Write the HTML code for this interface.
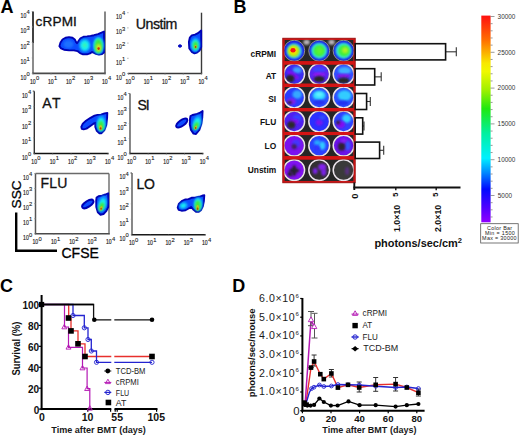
<!DOCTYPE html><html><head><meta charset="utf-8"><style>html,body{margin:0;padding:0;background:#fff;}svg{display:block;font-family:"Liberation Sans",sans-serif;}</style></head><body>
<svg width="520" height="436" viewBox="0 0 520 436">
<defs>
<filter id="bl" x="-20%" y="-20%" width="140%" height="140%"><feGaussianBlur stdDeviation="0.55"/></filter>
<filter id="bl2" x="-30%" y="-30%" width="160%" height="160%"><feGaussianBlur stdDeviation="1.0"/></filter>
<filter id="b6" x="-50%" y="-50%" width="200%" height="200%"><feGaussianBlur stdDeviation="0.6"/></filter>
<filter id="b8" x="-50%" y="-50%" width="200%" height="200%"><feGaussianBlur stdDeviation="0.8"/></filter>
<filter id="b9" x="-50%" y="-50%" width="200%" height="200%"><feGaussianBlur stdDeviation="0.9"/></filter>
<filter id="b10" x="-50%" y="-50%" width="200%" height="200%"><feGaussianBlur stdDeviation="1.0"/></filter>
<filter id="b11" x="-50%" y="-50%" width="200%" height="200%"><feGaussianBlur stdDeviation="1.1"/></filter>
<filter id="b12" x="-50%" y="-50%" width="200%" height="200%"><feGaussianBlur stdDeviation="1.2"/></filter>
<filter id="b13" x="-50%" y="-50%" width="200%" height="200%"><feGaussianBlur stdDeviation="1.3"/></filter>
<filter id="bl3" x="-30%" y="-30%" width="160%" height="160%"><feGaussianBlur stdDeviation="1.6"/></filter>
<linearGradient id="cbar" x1="0" y1="0" x2="0" y2="1">
<stop offset="0" stop-color="#ff1010"/>
<stop offset="0.12" stop-color="#ff7000"/>
<stop offset="0.23" stop-color="#f8e800"/>
<stop offset="0.27" stop-color="#f0f800"/>
<stop offset="0.36" stop-color="#a0f000"/>
<stop offset="0.45" stop-color="#20e810"/>
<stop offset="0.57" stop-color="#00f0a0"/>
<stop offset="0.69" stop-color="#00f0ff"/>
<stop offset="0.76" stop-color="#0088ff"/>
<stop offset="0.84" stop-color="#0008ff"/>
<stop offset="0.93" stop-color="#5000ff"/>
<stop offset="1" stop-color="#9000ff"/>
</linearGradient>
</defs>
<rect width="520" height="436" fill="#fff"/>
<text x="0.40" y="13.30" font-size="18" text-anchor="start" font-weight="bold" fill="#000" >A</text>
<text x="233.40" y="12.90" font-size="18" text-anchor="start" font-weight="bold" fill="#000" >B</text>
<text x="0.00" y="292.20" font-size="18" text-anchor="start" font-weight="bold" fill="#000" >C</text>
<text x="232.30" y="292.10" font-size="18" text-anchor="start" font-weight="bold" fill="#000" >D</text>
<line x1="33.00" y1="43.00" x2="33.00" y2="73.40" stroke="#666" stroke-width="1.5" />
<line x1="33.00" y1="11.50" x2="33.00" y2="43.00" stroke="#111" stroke-width="1.6" />
<line x1="105.00" y1="11.50" x2="105.00" y2="73.40" stroke="#555" stroke-width="1.4" />
<line x1="32.30" y1="73.40" x2="105.70" y2="73.40" stroke="#4a4a4a" stroke-width="1.6" />
<text x="20.60" y="79.70" font-size="7.8" fill="#1a1a1a" stroke="#1a1a1a" stroke-width="0.18" textLength="5.7" lengthAdjust="spacingAndGlyphs">10</text>
<text x="26.60" y="76.10" font-size="5.8" fill="#1a1a1a" stroke="#1a1a1a" stroke-width="0.12">0</text>
<line x1="31.80" y1="73.40" x2="33.00" y2="73.40" stroke="#888" stroke-width="0.8" />
<text x="20.60" y="64.23" font-size="7.8" fill="#1a1a1a" stroke="#1a1a1a" stroke-width="0.18" textLength="5.7" lengthAdjust="spacingAndGlyphs">10</text>
<text x="26.60" y="60.63" font-size="5.8" fill="#1a1a1a" stroke="#1a1a1a" stroke-width="0.12">1</text>
<line x1="31.80" y1="57.93" x2="33.00" y2="57.93" stroke="#888" stroke-width="0.8" />
<text x="20.60" y="48.75" font-size="7.8" fill="#1a1a1a" stroke="#1a1a1a" stroke-width="0.18" textLength="5.7" lengthAdjust="spacingAndGlyphs">10</text>
<text x="26.60" y="45.15" font-size="5.8" fill="#1a1a1a" stroke="#1a1a1a" stroke-width="0.12">2</text>
<line x1="31.80" y1="42.45" x2="33.00" y2="42.45" stroke="#888" stroke-width="0.8" />
<text x="20.60" y="33.27" font-size="7.8" fill="#1a1a1a" stroke="#1a1a1a" stroke-width="0.18" textLength="5.7" lengthAdjust="spacingAndGlyphs">10</text>
<text x="26.60" y="29.67" font-size="5.8" fill="#1a1a1a" stroke="#1a1a1a" stroke-width="0.12">3</text>
<line x1="31.80" y1="26.98" x2="33.00" y2="26.98" stroke="#888" stroke-width="0.8" />
<text x="20.60" y="17.80" font-size="7.8" fill="#1a1a1a" stroke="#1a1a1a" stroke-width="0.18" textLength="5.7" lengthAdjust="spacingAndGlyphs">10</text>
<text x="26.60" y="14.20" font-size="5.8" fill="#1a1a1a" stroke="#1a1a1a" stroke-width="0.12">4</text>
<line x1="31.80" y1="11.50" x2="33.00" y2="11.50" stroke="#888" stroke-width="0.8" />
<text x="30.00" y="83.80" font-size="7.8" fill="#1a1a1a" stroke="#1a1a1a" stroke-width="0.18" textLength="5.7" lengthAdjust="spacingAndGlyphs">10</text>
<text x="36.00" y="80.20" font-size="5.8" fill="#1a1a1a" stroke="#1a1a1a" stroke-width="0.12">0</text>
<line x1="33.00" y1="73.40" x2="33.00" y2="74.60" stroke="#888" stroke-width="0.8" />
<text x="48.00" y="83.80" font-size="7.8" fill="#1a1a1a" stroke="#1a1a1a" stroke-width="0.18" textLength="5.7" lengthAdjust="spacingAndGlyphs">10</text>
<text x="54.00" y="80.20" font-size="5.8" fill="#1a1a1a" stroke="#1a1a1a" stroke-width="0.12">1</text>
<line x1="51.00" y1="73.40" x2="51.00" y2="74.60" stroke="#888" stroke-width="0.8" />
<text x="66.00" y="83.80" font-size="7.8" fill="#1a1a1a" stroke="#1a1a1a" stroke-width="0.18" textLength="5.7" lengthAdjust="spacingAndGlyphs">10</text>
<text x="72.00" y="80.20" font-size="5.8" fill="#1a1a1a" stroke="#1a1a1a" stroke-width="0.12">2</text>
<line x1="69.00" y1="73.40" x2="69.00" y2="74.60" stroke="#888" stroke-width="0.8" />
<text x="84.00" y="83.80" font-size="7.8" fill="#1a1a1a" stroke="#1a1a1a" stroke-width="0.18" textLength="5.7" lengthAdjust="spacingAndGlyphs">10</text>
<text x="90.00" y="80.20" font-size="5.8" fill="#1a1a1a" stroke="#1a1a1a" stroke-width="0.12">3</text>
<line x1="87.00" y1="73.40" x2="87.00" y2="74.60" stroke="#888" stroke-width="0.8" />
<text x="102.00" y="83.80" font-size="7.8" fill="#1a1a1a" stroke="#1a1a1a" stroke-width="0.18" textLength="5.7" lengthAdjust="spacingAndGlyphs">10</text>
<text x="108.00" y="80.20" font-size="5.8" fill="#1a1a1a" stroke="#1a1a1a" stroke-width="0.12">4</text>
<line x1="105.00" y1="73.40" x2="105.00" y2="74.60" stroke="#888" stroke-width="0.8" />
<text x="35.50" y="25.80" font-size="13.6" fill="#111" stroke="#111" stroke-width="0.3" textLength="41.4" lengthAdjust="spacing">cRPMI</text>
<line x1="201.50" y1="12.70" x2="201.50" y2="73.50" stroke="#3a3a3a" stroke-width="1.4" />
<line x1="127.80" y1="73.50" x2="202.20" y2="73.50" stroke="#3a3a3a" stroke-width="1.6" />
<text x="116.10" y="79.80" font-size="7.8" fill="#1a1a1a" stroke="#1a1a1a" stroke-width="0.18" textLength="5.7" lengthAdjust="spacingAndGlyphs">10</text>
<text x="122.10" y="76.20" font-size="5.8" fill="#1a1a1a" stroke="#1a1a1a" stroke-width="0.12">0</text>
<line x1="127.30" y1="73.50" x2="128.50" y2="73.50" stroke="#888" stroke-width="0.8" />
<text x="116.10" y="64.60" font-size="7.8" fill="#1a1a1a" stroke="#1a1a1a" stroke-width="0.18" textLength="5.7" lengthAdjust="spacingAndGlyphs">10</text>
<text x="122.10" y="61.00" font-size="5.8" fill="#1a1a1a" stroke="#1a1a1a" stroke-width="0.12">1</text>
<line x1="127.30" y1="58.30" x2="128.50" y2="58.30" stroke="#888" stroke-width="0.8" />
<text x="116.10" y="49.40" font-size="7.8" fill="#1a1a1a" stroke="#1a1a1a" stroke-width="0.18" textLength="5.7" lengthAdjust="spacingAndGlyphs">10</text>
<text x="122.10" y="45.80" font-size="5.8" fill="#1a1a1a" stroke="#1a1a1a" stroke-width="0.12">2</text>
<line x1="127.30" y1="43.10" x2="128.50" y2="43.10" stroke="#888" stroke-width="0.8" />
<text x="116.10" y="34.20" font-size="7.8" fill="#1a1a1a" stroke="#1a1a1a" stroke-width="0.18" textLength="5.7" lengthAdjust="spacingAndGlyphs">10</text>
<text x="122.10" y="30.60" font-size="5.8" fill="#1a1a1a" stroke="#1a1a1a" stroke-width="0.12">3</text>
<line x1="127.30" y1="27.90" x2="128.50" y2="27.90" stroke="#888" stroke-width="0.8" />
<text x="116.10" y="19.00" font-size="7.8" fill="#1a1a1a" stroke="#1a1a1a" stroke-width="0.18" textLength="5.7" lengthAdjust="spacingAndGlyphs">10</text>
<text x="122.10" y="15.40" font-size="5.8" fill="#1a1a1a" stroke="#1a1a1a" stroke-width="0.12">4</text>
<line x1="127.30" y1="12.70" x2="128.50" y2="12.70" stroke="#888" stroke-width="0.8" />
<text x="125.50" y="83.90" font-size="7.8" fill="#1a1a1a" stroke="#1a1a1a" stroke-width="0.18" textLength="5.7" lengthAdjust="spacingAndGlyphs">10</text>
<text x="131.50" y="80.30" font-size="5.8" fill="#1a1a1a" stroke="#1a1a1a" stroke-width="0.12">0</text>
<line x1="128.50" y1="73.50" x2="128.50" y2="74.70" stroke="#888" stroke-width="0.8" />
<text x="143.75" y="83.90" font-size="7.8" fill="#1a1a1a" stroke="#1a1a1a" stroke-width="0.18" textLength="5.7" lengthAdjust="spacingAndGlyphs">10</text>
<text x="149.75" y="80.30" font-size="5.8" fill="#1a1a1a" stroke="#1a1a1a" stroke-width="0.12">1</text>
<line x1="146.75" y1="73.50" x2="146.75" y2="74.70" stroke="#888" stroke-width="0.8" />
<text x="162.00" y="83.90" font-size="7.8" fill="#1a1a1a" stroke="#1a1a1a" stroke-width="0.18" textLength="5.7" lengthAdjust="spacingAndGlyphs">10</text>
<text x="168.00" y="80.30" font-size="5.8" fill="#1a1a1a" stroke="#1a1a1a" stroke-width="0.12">2</text>
<line x1="165.00" y1="73.50" x2="165.00" y2="74.70" stroke="#888" stroke-width="0.8" />
<text x="180.25" y="83.90" font-size="7.8" fill="#1a1a1a" stroke="#1a1a1a" stroke-width="0.18" textLength="5.7" lengthAdjust="spacingAndGlyphs">10</text>
<text x="186.25" y="80.30" font-size="5.8" fill="#1a1a1a" stroke="#1a1a1a" stroke-width="0.12">3</text>
<line x1="183.25" y1="73.50" x2="183.25" y2="74.70" stroke="#888" stroke-width="0.8" />
<text x="198.50" y="83.90" font-size="7.8" fill="#1a1a1a" stroke="#1a1a1a" stroke-width="0.18" textLength="5.7" lengthAdjust="spacingAndGlyphs">10</text>
<text x="204.50" y="80.30" font-size="5.8" fill="#1a1a1a" stroke="#1a1a1a" stroke-width="0.12">4</text>
<line x1="201.50" y1="73.50" x2="201.50" y2="74.70" stroke="#888" stroke-width="0.8" />
<text x="135.80" y="28.50" font-size="14.2" fill="#111" stroke="#111" stroke-width="0.3" textLength="41.6" lengthAdjust="spacing">Unstim</text>
<line x1="34.30" y1="91.20" x2="34.30" y2="153.50" stroke="#333" stroke-width="1.4" />
<line x1="32.80" y1="91.20" x2="34.30" y2="91.20" stroke="#333" stroke-width="1.0" />
<line x1="33.60" y1="153.50" x2="108.60" y2="153.50" stroke="#111" stroke-width="1.6" />
<text x="21.90" y="159.80" font-size="7.8" fill="#1a1a1a" stroke="#1a1a1a" stroke-width="0.18" textLength="5.7" lengthAdjust="spacingAndGlyphs">10</text>
<text x="27.90" y="156.20" font-size="5.8" fill="#1a1a1a" stroke="#1a1a1a" stroke-width="0.12">0</text>
<line x1="33.10" y1="153.50" x2="34.30" y2="153.50" stroke="#888" stroke-width="0.8" />
<text x="21.90" y="144.23" font-size="7.8" fill="#1a1a1a" stroke="#1a1a1a" stroke-width="0.18" textLength="5.7" lengthAdjust="spacingAndGlyphs">10</text>
<text x="27.90" y="140.63" font-size="5.8" fill="#1a1a1a" stroke="#1a1a1a" stroke-width="0.12">1</text>
<line x1="33.10" y1="137.93" x2="34.30" y2="137.93" stroke="#888" stroke-width="0.8" />
<text x="21.90" y="128.65" font-size="7.8" fill="#1a1a1a" stroke="#1a1a1a" stroke-width="0.18" textLength="5.7" lengthAdjust="spacingAndGlyphs">10</text>
<text x="27.90" y="125.05" font-size="5.8" fill="#1a1a1a" stroke="#1a1a1a" stroke-width="0.12">2</text>
<line x1="33.10" y1="122.35" x2="34.30" y2="122.35" stroke="#888" stroke-width="0.8" />
<text x="21.90" y="113.08" font-size="7.8" fill="#1a1a1a" stroke="#1a1a1a" stroke-width="0.18" textLength="5.7" lengthAdjust="spacingAndGlyphs">10</text>
<text x="27.90" y="109.48" font-size="5.8" fill="#1a1a1a" stroke="#1a1a1a" stroke-width="0.12">3</text>
<line x1="33.10" y1="106.78" x2="34.30" y2="106.78" stroke="#888" stroke-width="0.8" />
<text x="21.90" y="97.50" font-size="7.8" fill="#1a1a1a" stroke="#1a1a1a" stroke-width="0.18" textLength="5.7" lengthAdjust="spacingAndGlyphs">10</text>
<text x="27.90" y="93.90" font-size="5.8" fill="#1a1a1a" stroke="#1a1a1a" stroke-width="0.12">4</text>
<line x1="33.10" y1="91.20" x2="34.30" y2="91.20" stroke="#888" stroke-width="0.8" />
<text x="31.30" y="163.90" font-size="7.8" fill="#1a1a1a" stroke="#1a1a1a" stroke-width="0.18" textLength="5.7" lengthAdjust="spacingAndGlyphs">10</text>
<text x="37.30" y="160.30" font-size="5.8" fill="#1a1a1a" stroke="#1a1a1a" stroke-width="0.12">0</text>
<line x1="34.30" y1="153.50" x2="34.30" y2="154.70" stroke="#888" stroke-width="0.8" />
<text x="49.70" y="163.90" font-size="7.8" fill="#1a1a1a" stroke="#1a1a1a" stroke-width="0.18" textLength="5.7" lengthAdjust="spacingAndGlyphs">10</text>
<text x="55.70" y="160.30" font-size="5.8" fill="#1a1a1a" stroke="#1a1a1a" stroke-width="0.12">1</text>
<line x1="52.70" y1="153.50" x2="52.70" y2="154.70" stroke="#888" stroke-width="0.8" />
<text x="68.10" y="163.90" font-size="7.8" fill="#1a1a1a" stroke="#1a1a1a" stroke-width="0.18" textLength="5.7" lengthAdjust="spacingAndGlyphs">10</text>
<text x="74.10" y="160.30" font-size="5.8" fill="#1a1a1a" stroke="#1a1a1a" stroke-width="0.12">2</text>
<line x1="71.10" y1="153.50" x2="71.10" y2="154.70" stroke="#888" stroke-width="0.8" />
<text x="86.50" y="163.90" font-size="7.8" fill="#1a1a1a" stroke="#1a1a1a" stroke-width="0.18" textLength="5.7" lengthAdjust="spacingAndGlyphs">10</text>
<text x="92.50" y="160.30" font-size="5.8" fill="#1a1a1a" stroke="#1a1a1a" stroke-width="0.12">3</text>
<line x1="89.50" y1="153.50" x2="89.50" y2="154.70" stroke="#888" stroke-width="0.8" />
<text x="104.90" y="163.90" font-size="7.8" fill="#1a1a1a" stroke="#1a1a1a" stroke-width="0.18" textLength="5.7" lengthAdjust="spacingAndGlyphs">10</text>
<text x="110.90" y="160.30" font-size="5.8" fill="#1a1a1a" stroke="#1a1a1a" stroke-width="0.12">4</text>
<line x1="107.90" y1="153.50" x2="107.90" y2="154.70" stroke="#888" stroke-width="0.8" />
<text x="42.30" y="108.40" font-size="14" fill="#111" stroke="#111" stroke-width="0.3" textLength="18.2" lengthAdjust="spacing">AT</text>
<line x1="130.00" y1="93.50" x2="130.00" y2="153.50" stroke="#555" stroke-width="1.4" />
<line x1="128.50" y1="93.50" x2="130.00" y2="93.50" stroke="#555" stroke-width="1.0" />
<line x1="129.30" y1="153.50" x2="203.40" y2="153.50" stroke="#1a1a1a" stroke-width="1.6" />
<text x="117.60" y="159.80" font-size="7.8" fill="#1a1a1a" stroke="#1a1a1a" stroke-width="0.18" textLength="5.7" lengthAdjust="spacingAndGlyphs">10</text>
<text x="123.60" y="156.20" font-size="5.8" fill="#1a1a1a" stroke="#1a1a1a" stroke-width="0.12">0</text>
<line x1="128.80" y1="153.50" x2="130.00" y2="153.50" stroke="#888" stroke-width="0.8" />
<text x="117.60" y="144.80" font-size="7.8" fill="#1a1a1a" stroke="#1a1a1a" stroke-width="0.18" textLength="5.7" lengthAdjust="spacingAndGlyphs">10</text>
<text x="123.60" y="141.20" font-size="5.8" fill="#1a1a1a" stroke="#1a1a1a" stroke-width="0.12">1</text>
<line x1="128.80" y1="138.50" x2="130.00" y2="138.50" stroke="#888" stroke-width="0.8" />
<text x="117.60" y="129.80" font-size="7.8" fill="#1a1a1a" stroke="#1a1a1a" stroke-width="0.18" textLength="5.7" lengthAdjust="spacingAndGlyphs">10</text>
<text x="123.60" y="126.20" font-size="5.8" fill="#1a1a1a" stroke="#1a1a1a" stroke-width="0.12">2</text>
<line x1="128.80" y1="123.50" x2="130.00" y2="123.50" stroke="#888" stroke-width="0.8" />
<text x="117.60" y="114.80" font-size="7.8" fill="#1a1a1a" stroke="#1a1a1a" stroke-width="0.18" textLength="5.7" lengthAdjust="spacingAndGlyphs">10</text>
<text x="123.60" y="111.20" font-size="5.8" fill="#1a1a1a" stroke="#1a1a1a" stroke-width="0.12">3</text>
<line x1="128.80" y1="108.50" x2="130.00" y2="108.50" stroke="#888" stroke-width="0.8" />
<text x="117.60" y="99.80" font-size="7.8" fill="#1a1a1a" stroke="#1a1a1a" stroke-width="0.18" textLength="5.7" lengthAdjust="spacingAndGlyphs">10</text>
<text x="123.60" y="96.20" font-size="5.8" fill="#1a1a1a" stroke="#1a1a1a" stroke-width="0.12">4</text>
<line x1="128.80" y1="93.50" x2="130.00" y2="93.50" stroke="#888" stroke-width="0.8" />
<text x="127.00" y="163.90" font-size="7.8" fill="#1a1a1a" stroke="#1a1a1a" stroke-width="0.18" textLength="5.7" lengthAdjust="spacingAndGlyphs">10</text>
<text x="133.00" y="160.30" font-size="5.8" fill="#1a1a1a" stroke="#1a1a1a" stroke-width="0.12">0</text>
<line x1="130.00" y1="153.50" x2="130.00" y2="154.70" stroke="#888" stroke-width="0.8" />
<text x="145.18" y="163.90" font-size="7.8" fill="#1a1a1a" stroke="#1a1a1a" stroke-width="0.18" textLength="5.7" lengthAdjust="spacingAndGlyphs">10</text>
<text x="151.18" y="160.30" font-size="5.8" fill="#1a1a1a" stroke="#1a1a1a" stroke-width="0.12">1</text>
<line x1="148.18" y1="153.50" x2="148.18" y2="154.70" stroke="#888" stroke-width="0.8" />
<text x="163.35" y="163.90" font-size="7.8" fill="#1a1a1a" stroke="#1a1a1a" stroke-width="0.18" textLength="5.7" lengthAdjust="spacingAndGlyphs">10</text>
<text x="169.35" y="160.30" font-size="5.8" fill="#1a1a1a" stroke="#1a1a1a" stroke-width="0.12">2</text>
<line x1="166.35" y1="153.50" x2="166.35" y2="154.70" stroke="#888" stroke-width="0.8" />
<text x="181.52" y="163.90" font-size="7.8" fill="#1a1a1a" stroke="#1a1a1a" stroke-width="0.18" textLength="5.7" lengthAdjust="spacingAndGlyphs">10</text>
<text x="187.52" y="160.30" font-size="5.8" fill="#1a1a1a" stroke="#1a1a1a" stroke-width="0.12">3</text>
<line x1="184.52" y1="153.50" x2="184.52" y2="154.70" stroke="#888" stroke-width="0.8" />
<text x="199.70" y="163.90" font-size="7.8" fill="#1a1a1a" stroke="#1a1a1a" stroke-width="0.18" textLength="5.7" lengthAdjust="spacingAndGlyphs">10</text>
<text x="205.70" y="160.30" font-size="5.8" fill="#1a1a1a" stroke="#1a1a1a" stroke-width="0.12">4</text>
<line x1="202.70" y1="153.50" x2="202.70" y2="154.70" stroke="#888" stroke-width="0.8" />
<text x="137.60" y="109.50" font-size="14" fill="#111" stroke="#111" stroke-width="0.3" textLength="12.0" lengthAdjust="spacing">SI</text>
<line x1="35.50" y1="173.50" x2="35.50" y2="233.80" stroke="#555" stroke-width="1.5" />
<line x1="109.00" y1="173.50" x2="109.00" y2="233.80" stroke="#6a6a6a" stroke-width="1.4" />
<line x1="35.50" y1="173.50" x2="109.00" y2="173.50" stroke="#6a6a6a" stroke-width="1.4" />
<line x1="34.80" y1="233.80" x2="109.70" y2="233.80" stroke="#4a4a4a" stroke-width="1.6" />
<text x="23.10" y="240.10" font-size="7.8" fill="#1a1a1a" stroke="#1a1a1a" stroke-width="0.18" textLength="5.7" lengthAdjust="spacingAndGlyphs">10</text>
<text x="29.10" y="236.50" font-size="5.8" fill="#1a1a1a" stroke="#1a1a1a" stroke-width="0.12">0</text>
<line x1="34.30" y1="233.80" x2="35.50" y2="233.80" stroke="#888" stroke-width="0.8" />
<text x="23.10" y="225.03" font-size="7.8" fill="#1a1a1a" stroke="#1a1a1a" stroke-width="0.18" textLength="5.7" lengthAdjust="spacingAndGlyphs">10</text>
<text x="29.10" y="221.43" font-size="5.8" fill="#1a1a1a" stroke="#1a1a1a" stroke-width="0.12">1</text>
<line x1="34.30" y1="218.73" x2="35.50" y2="218.73" stroke="#888" stroke-width="0.8" />
<text x="23.10" y="209.95" font-size="7.8" fill="#1a1a1a" stroke="#1a1a1a" stroke-width="0.18" textLength="5.7" lengthAdjust="spacingAndGlyphs">10</text>
<text x="29.10" y="206.35" font-size="5.8" fill="#1a1a1a" stroke="#1a1a1a" stroke-width="0.12">2</text>
<line x1="34.30" y1="203.65" x2="35.50" y2="203.65" stroke="#888" stroke-width="0.8" />
<text x="23.10" y="194.88" font-size="7.8" fill="#1a1a1a" stroke="#1a1a1a" stroke-width="0.18" textLength="5.7" lengthAdjust="spacingAndGlyphs">10</text>
<text x="29.10" y="191.28" font-size="5.8" fill="#1a1a1a" stroke="#1a1a1a" stroke-width="0.12">3</text>
<line x1="34.30" y1="188.57" x2="35.50" y2="188.57" stroke="#888" stroke-width="0.8" />
<text x="23.10" y="179.80" font-size="7.8" fill="#1a1a1a" stroke="#1a1a1a" stroke-width="0.18" textLength="5.7" lengthAdjust="spacingAndGlyphs">10</text>
<text x="29.10" y="176.20" font-size="5.8" fill="#1a1a1a" stroke="#1a1a1a" stroke-width="0.12">4</text>
<line x1="34.30" y1="173.50" x2="35.50" y2="173.50" stroke="#888" stroke-width="0.8" />
<text x="32.50" y="244.20" font-size="7.8" fill="#1a1a1a" stroke="#1a1a1a" stroke-width="0.18" textLength="5.7" lengthAdjust="spacingAndGlyphs">10</text>
<text x="38.50" y="240.60" font-size="5.8" fill="#1a1a1a" stroke="#1a1a1a" stroke-width="0.12">0</text>
<line x1="35.50" y1="233.80" x2="35.50" y2="235.00" stroke="#888" stroke-width="0.8" />
<text x="50.88" y="244.20" font-size="7.8" fill="#1a1a1a" stroke="#1a1a1a" stroke-width="0.18" textLength="5.7" lengthAdjust="spacingAndGlyphs">10</text>
<text x="56.88" y="240.60" font-size="5.8" fill="#1a1a1a" stroke="#1a1a1a" stroke-width="0.12">1</text>
<line x1="53.88" y1="233.80" x2="53.88" y2="235.00" stroke="#888" stroke-width="0.8" />
<text x="69.25" y="244.20" font-size="7.8" fill="#1a1a1a" stroke="#1a1a1a" stroke-width="0.18" textLength="5.7" lengthAdjust="spacingAndGlyphs">10</text>
<text x="75.25" y="240.60" font-size="5.8" fill="#1a1a1a" stroke="#1a1a1a" stroke-width="0.12">2</text>
<line x1="72.25" y1="233.80" x2="72.25" y2="235.00" stroke="#888" stroke-width="0.8" />
<text x="87.62" y="244.20" font-size="7.8" fill="#1a1a1a" stroke="#1a1a1a" stroke-width="0.18" textLength="5.7" lengthAdjust="spacingAndGlyphs">10</text>
<text x="93.62" y="240.60" font-size="5.8" fill="#1a1a1a" stroke="#1a1a1a" stroke-width="0.12">3</text>
<line x1="90.62" y1="233.80" x2="90.62" y2="235.00" stroke="#888" stroke-width="0.8" />
<text x="106.00" y="244.20" font-size="7.8" fill="#1a1a1a" stroke="#1a1a1a" stroke-width="0.18" textLength="5.7" lengthAdjust="spacingAndGlyphs">10</text>
<text x="112.00" y="240.60" font-size="5.8" fill="#1a1a1a" stroke="#1a1a1a" stroke-width="0.12">4</text>
<line x1="109.00" y1="233.80" x2="109.00" y2="235.00" stroke="#888" stroke-width="0.8" />
<text x="40.60" y="187.90" font-size="14" fill="#111" stroke="#111" stroke-width="0.3" textLength="26.8" lengthAdjust="spacing">FLU</text>
<line x1="132.00" y1="173.00" x2="132.00" y2="234.70" stroke="#555" stroke-width="1.4" />
<line x1="130.50" y1="173.00" x2="132.00" y2="173.00" stroke="#555" stroke-width="1.0" />
<line x1="131.30" y1="234.70" x2="205.60" y2="234.70" stroke="#1a1a1a" stroke-width="1.6" />
<text x="119.60" y="241.00" font-size="7.8" fill="#1a1a1a" stroke="#1a1a1a" stroke-width="0.18" textLength="5.7" lengthAdjust="spacingAndGlyphs">10</text>
<text x="125.60" y="237.40" font-size="5.8" fill="#1a1a1a" stroke="#1a1a1a" stroke-width="0.12">0</text>
<line x1="130.80" y1="234.70" x2="132.00" y2="234.70" stroke="#888" stroke-width="0.8" />
<text x="119.60" y="225.57" font-size="7.8" fill="#1a1a1a" stroke="#1a1a1a" stroke-width="0.18" textLength="5.7" lengthAdjust="spacingAndGlyphs">10</text>
<text x="125.60" y="221.97" font-size="5.8" fill="#1a1a1a" stroke="#1a1a1a" stroke-width="0.12">1</text>
<line x1="130.80" y1="219.27" x2="132.00" y2="219.27" stroke="#888" stroke-width="0.8" />
<text x="119.60" y="210.15" font-size="7.8" fill="#1a1a1a" stroke="#1a1a1a" stroke-width="0.18" textLength="5.7" lengthAdjust="spacingAndGlyphs">10</text>
<text x="125.60" y="206.55" font-size="5.8" fill="#1a1a1a" stroke="#1a1a1a" stroke-width="0.12">2</text>
<line x1="130.80" y1="203.85" x2="132.00" y2="203.85" stroke="#888" stroke-width="0.8" />
<text x="119.60" y="194.73" font-size="7.8" fill="#1a1a1a" stroke="#1a1a1a" stroke-width="0.18" textLength="5.7" lengthAdjust="spacingAndGlyphs">10</text>
<text x="125.60" y="191.13" font-size="5.8" fill="#1a1a1a" stroke="#1a1a1a" stroke-width="0.12">3</text>
<line x1="130.80" y1="188.43" x2="132.00" y2="188.43" stroke="#888" stroke-width="0.8" />
<text x="119.60" y="179.30" font-size="7.8" fill="#1a1a1a" stroke="#1a1a1a" stroke-width="0.18" textLength="5.7" lengthAdjust="spacingAndGlyphs">10</text>
<text x="125.60" y="175.70" font-size="5.8" fill="#1a1a1a" stroke="#1a1a1a" stroke-width="0.12">4</text>
<line x1="130.80" y1="173.00" x2="132.00" y2="173.00" stroke="#888" stroke-width="0.8" />
<text x="129.00" y="245.10" font-size="7.8" fill="#1a1a1a" stroke="#1a1a1a" stroke-width="0.18" textLength="5.7" lengthAdjust="spacingAndGlyphs">10</text>
<text x="135.00" y="241.50" font-size="5.8" fill="#1a1a1a" stroke="#1a1a1a" stroke-width="0.12">0</text>
<line x1="132.00" y1="234.70" x2="132.00" y2="235.90" stroke="#888" stroke-width="0.8" />
<text x="147.22" y="245.10" font-size="7.8" fill="#1a1a1a" stroke="#1a1a1a" stroke-width="0.18" textLength="5.7" lengthAdjust="spacingAndGlyphs">10</text>
<text x="153.22" y="241.50" font-size="5.8" fill="#1a1a1a" stroke="#1a1a1a" stroke-width="0.12">1</text>
<line x1="150.22" y1="234.70" x2="150.22" y2="235.90" stroke="#888" stroke-width="0.8" />
<text x="165.45" y="245.10" font-size="7.8" fill="#1a1a1a" stroke="#1a1a1a" stroke-width="0.18" textLength="5.7" lengthAdjust="spacingAndGlyphs">10</text>
<text x="171.45" y="241.50" font-size="5.8" fill="#1a1a1a" stroke="#1a1a1a" stroke-width="0.12">2</text>
<line x1="168.45" y1="234.70" x2="168.45" y2="235.90" stroke="#888" stroke-width="0.8" />
<text x="183.68" y="245.10" font-size="7.8" fill="#1a1a1a" stroke="#1a1a1a" stroke-width="0.18" textLength="5.7" lengthAdjust="spacingAndGlyphs">10</text>
<text x="189.68" y="241.50" font-size="5.8" fill="#1a1a1a" stroke="#1a1a1a" stroke-width="0.12">3</text>
<line x1="186.68" y1="234.70" x2="186.68" y2="235.90" stroke="#888" stroke-width="0.8" />
<text x="201.90" y="245.10" font-size="7.8" fill="#1a1a1a" stroke="#1a1a1a" stroke-width="0.18" textLength="5.7" lengthAdjust="spacingAndGlyphs">10</text>
<text x="207.90" y="241.50" font-size="5.8" fill="#1a1a1a" stroke="#1a1a1a" stroke-width="0.12">4</text>
<line x1="204.90" y1="234.70" x2="204.90" y2="235.90" stroke="#888" stroke-width="0.8" />
<text x="136.60" y="189.20" font-size="14" fill="#111" stroke="#111" stroke-width="0.3" textLength="18.2" lengthAdjust="spacing">LO</text>
<g filter="url(#bl)"><path d="M59.4,46.2 L60.5,42.5 L62.5,39.5 L65.5,37.7 L69.0,37.1 L72.5,37.7 L74.8,39.4 L76.2,42.3 L77.2,43.2 L78.3,41.4 L80.5,38.3 L83.5,36.8 L87.0,36.4 L90.6,35.9 L94.0,35.2 L98.0,34.1 L101.5,32.7 L104.0,31.5 L104.0,52.5 L102.0,54.1 L99.0,54.6 L96.0,53.9 L93.6,52.6 L92.0,52.0 L90.0,53.4 L87.0,54.3 L83.0,54.3 L80.0,53.1 L77.5,51.1 L74.0,50.4 L69.0,50.3 L64.0,49.7 L61.0,48.3 Z" fill="#0a4cff" stroke="#0006b4" stroke-width="1.9" stroke-linejoin="round"/></g>
<g filter="url(#bl2)"><ellipse cx="68.5" cy="44.2" rx="5.0" ry="4.0" fill="#1a70ff"/></g>
<g filter="url(#bl2)"><ellipse cx="84.8" cy="45.4" rx="5.8" ry="6.8" fill="#1090ff"/></g>
<g filter="url(#bl2)"><ellipse cx="84.8" cy="45.4" rx="4.4" ry="5.2" fill="#18f0f0"/></g>
<g filter="url(#bl2)"><ellipse cx="84.7" cy="45.2" rx="1.8" ry="2.3" fill="#40f0b0"/></g>
<g filter="url(#bl2)"><ellipse cx="98.5" cy="45.3" rx="5.4" ry="8.6" fill="#1090ff"/></g>
<g filter="url(#bl2)"><ellipse cx="98.4" cy="45.5" rx="4.6" ry="7.8" fill="#18f0f0"/></g>
<g filter="url(#bl2)"><ellipse cx="98.4" cy="45.9" rx="3.8" ry="7.0" fill="#40e840"/></g>
<g filter="url(#bl2)"><ellipse cx="98.6" cy="47.8" rx="2.4" ry="3.8" fill="#d8e020"/></g>
<g filter="url(#bl)"><ellipse cx="98.6" cy="48.6" rx="1.2" ry="1.4" fill="#c83008"/></g>
<g filter="url(#bl)"><path d="M188.9,42.0 L189.8,37.6 L191.8,35.4 L195.0,34.6 L198.0,33.2 L200.3,31.2 L201.2,30.4 L201.2,47.0 L199.5,50.5 L197.0,52.6 L194.5,53.3 L191.7,51.8 L189.3,48.5 Z" fill="#0a4cff" stroke="#0006b4" stroke-width="1.9" stroke-linejoin="round"/></g>
<g filter="url(#bl2)"><ellipse cx="195.4" cy="44.5" rx="4.5" ry="7.2" fill="#1090ff"/></g>
<g filter="url(#bl2)"><ellipse cx="195.4" cy="45.0" rx="3.5" ry="5.6" fill="#18f0f0"/></g>
<g filter="url(#bl2)"><ellipse cx="195.5" cy="45.6" rx="2.5" ry="4.0" fill="#40e840"/></g>
<g filter="url(#bl)"><ellipse cx="195.6" cy="46.6" rx="1.3" ry="1.9" fill="#a8c820"/></g>
<g filter="url(#bl)"><ellipse cx="195.6" cy="47.0" rx="0.7" ry="0.9" fill="#a04010"/></g>
<g filter="url(#bl)"><ellipse cx="180" cy="46" rx="1.6" ry="1.3" fill="#0010d0" stroke="#0006b4" stroke-width="0.8" stroke-linejoin="round"/></g>
<g filter="url(#bl)"><path d="M81.3,126.8 L82.8,123.6 L86.0,120.7 L90.5,117.8 L94.5,115.6 L97.5,114.9 L101.0,114.6 L104.5,113.4 L107.3,113.0 L107.1,118.0 L106.3,125.0 L104.4,130.0 L101.5,133.2 L99.2,133.2 L96.8,130.8 L95.3,127.0 L95.4,122.8 L93.5,123.7 L90.0,126.2 L86.5,128.6 L83.7,129.4 L81.8,128.8 Z" fill="#0a4cff" stroke="#0006b4" stroke-width="1.9" stroke-linejoin="round"/></g>
<g filter="url(#bl2)"><ellipse cx="101.3" cy="123.3" rx="4.6" ry="8.0" fill="#1090ff"/></g>
<g filter="url(#bl2)"><ellipse cx="101.1" cy="124.4" rx="3.7" ry="6.6" fill="#18f0f0"/></g>
<g filter="url(#bl2)"><ellipse cx="100.9" cy="125.9" rx="2.8" ry="4.9" fill="#40e840"/></g>
<g filter="url(#bl)"><ellipse cx="100.7" cy="127.5" rx="1.6" ry="2.5" fill="#c0c820"/></g>
<g filter="url(#bl)"><ellipse cx="100.6" cy="128.4" rx="0.9" ry="1.2" fill="#b04010"/></g>
<g filter="url(#bl)"><ellipse cx="181.8" cy="123.0" rx="6.6" ry="2.9" fill="#0a4cff" stroke="#0006b4" stroke-width="1.9" stroke-linejoin="round" transform="rotate(-36 181.8 123.0)"/></g>
<g filter="url(#bl)"><path d="M190.0,119.0 L190.5,116.0 L192.5,115.0 L196.0,114.3 L199.5,113.0 L202.6,111.0 L202.3,117.0 L201.3,124.0 L199.3,130.0 L196.0,134.0 L193.5,133.6 L191.0,130.0 L189.8,124.5 Z" fill="#0a4cff" stroke="#0006b4" stroke-width="1.9" stroke-linejoin="round"/></g>
<g filter="url(#bl2)"><ellipse cx="197.2" cy="122.3" rx="4.2" ry="7.8" fill="#1090ff" transform="rotate(15 197.2 122.3)"/></g>
<g filter="url(#bl2)"><ellipse cx="196.8" cy="123.6" rx="3.3" ry="6.0" fill="#18f0f0" transform="rotate(18 196.8 123.6)"/></g>
<g filter="url(#bl2)"><ellipse cx="196.0" cy="126.0" rx="2.3" ry="4.2" fill="#40e840" transform="rotate(25 196.0 126.0)"/></g>
<g filter="url(#bl)"><ellipse cx="195.7" cy="127.5" rx="1.2" ry="2.2" fill="#b8c020" transform="rotate(25 195.7 127.5)"/></g>
<g filter="url(#bl)"><ellipse cx="195.6" cy="128.0" rx="0.7" ry="1.0" fill="#a05010"/></g>
<g filter="url(#bl)"><ellipse cx="87.8" cy="204.0" rx="6.5" ry="2.8" fill="#0a4cff" stroke="#0006b4" stroke-width="1.9" stroke-linejoin="round" transform="rotate(-33 87.8 204.0)"/></g>
<g filter="url(#bl)"><path d="M96.2,200.5 L96.6,197.5 L98.5,196.3 L102.0,195.7 L105.5,194.5 L108.2,193.3 L108.2,207.0 L106.4,210.8 L103.5,214.0 L100.5,214.7 L97.8,212.3 L96.3,207.0 Z" fill="#0a4cff" stroke="#0006b4" stroke-width="1.9" stroke-linejoin="round"/></g>
<g filter="url(#bl2)"><ellipse cx="102.6" cy="203.4" rx="4.4" ry="8.0" fill="#1090ff" transform="rotate(12 102.6 203.4)"/></g>
<g filter="url(#bl2)"><ellipse cx="102.2" cy="204.8" rx="3.4" ry="6.4" fill="#18f0f0" transform="rotate(15 102.2 204.8)"/></g>
<g filter="url(#bl2)"><ellipse cx="101.4" cy="206.8" rx="2.4" ry="4.4" fill="#40e840" transform="rotate(22 101.4 206.8)"/></g>
<g filter="url(#bl)"><ellipse cx="101.2" cy="208.2" rx="1.3" ry="2.3" fill="#b8c020" transform="rotate(22 101.2 208.2)"/></g>
<g filter="url(#bl)"><ellipse cx="101.1" cy="208.8" rx="0.7" ry="1.0" fill="#a05010"/></g>
<g filter="url(#bl)"><path d="M177.7,207.5 L178.8,204.0 L181.7,201.2 L185.0,199.5 L188.5,199.1 L191.5,197.8 L195.0,197.6 L199.0,196.8 L202.0,195.8 L204.3,195.3 L203.9,201.0 L202.8,206.4 L200.8,210.3 L198.5,211.9 L196.0,211.7 L193.6,209.8 L191.2,207.0 L189.0,208.3 L185.5,210.3 L181.6,210.7 L178.7,209.8 Z" fill="#0a4cff" stroke="#0006b4" stroke-width="1.9" stroke-linejoin="round"/></g>
<g filter="url(#bl2)"><ellipse cx="183.5" cy="205.4" rx="4.4" ry="3.2" fill="#1090ff" transform="rotate(-20 183.5 205.4)"/></g>
<g filter="url(#bl2)"><ellipse cx="183.2" cy="205.6" rx="2.8" ry="2.1" fill="#18f0f0" transform="rotate(-20 183.2 205.6)"/></g>
<g filter="url(#bl2)"><ellipse cx="198.2" cy="203.8" rx="4.4" ry="7.0" fill="#1090ff"/></g>
<g filter="url(#bl2)"><ellipse cx="198.0" cy="204.6" rx="3.6" ry="6.0" fill="#18f0f0"/></g>
<g filter="url(#bl2)"><ellipse cx="197.8" cy="205.6" rx="2.8" ry="5.0" fill="#40e840"/></g>
<g filter="url(#bl)"><ellipse cx="197.6" cy="207.6" rx="1.5" ry="2.8" fill="#b8c420"/></g>
<g filter="url(#bl)"><ellipse cx="197.6" cy="208.8" rx="0.8" ry="1.2" fill="#a06010"/></g>
<text x="276.2" y="56.5" font-size="8.4" font-weight="bold" text-anchor="end" fill="#111">cRPMI</text>
<text x="276.2" y="78.8" font-size="8.4" font-weight="bold" text-anchor="end" fill="#111">AT</text>
<text x="276.2" y="102.1" font-size="8.4" font-weight="bold" text-anchor="end" fill="#111">SI</text>
<text x="276.2" y="125.1" font-size="8.4" font-weight="bold" text-anchor="end" fill="#111">FLU</text>
<text x="276.2" y="148.7" font-size="8.4" font-weight="bold" text-anchor="end" fill="#111">LO</text>
<text x="276.2" y="173.0" font-size="8.4" font-weight="bold" text-anchor="end" fill="#111">Unstim</text>
<rect x="282.8" y="38.3" width="72.4" height="144.4" fill="#d41414"/>
<rect x="282.8" y="38.3" width="72.4" height="144.4" fill="none" stroke="#a01010" stroke-width="1"/>
<defs>
<clipPath id="row0"><rect x="284.4" y="39.80" width="69.2" height="21.50"/></clipPath>
<clipPath id="w00"><circle cx="294.2" cy="50.7" r="10.2"/></clipPath>
<clipPath id="w01"><circle cx="319.2" cy="50.7" r="10.2"/></clipPath>
<clipPath id="w02"><circle cx="343.6" cy="50.7" r="10.2"/></clipPath>
<clipPath id="row1"><rect x="284.4" y="64.50" width="69.2" height="19.20"/></clipPath>
<clipPath id="w10"><circle cx="294.2" cy="74.1" r="9.8"/></clipPath>
<clipPath id="w11"><circle cx="319.2" cy="74.1" r="9.8"/></clipPath>
<clipPath id="w12"><circle cx="343.6" cy="74.1" r="9.8"/></clipPath>
<clipPath id="row2"><rect x="284.4" y="86.90" width="69.2" height="21.10"/></clipPath>
<clipPath id="w20"><circle cx="294.2" cy="97.5" r="9.8"/></clipPath>
<clipPath id="w21"><circle cx="319.2" cy="97.5" r="9.8"/></clipPath>
<clipPath id="w22"><circle cx="343.6" cy="97.5" r="9.8"/></clipPath>
<clipPath id="row3"><rect x="284.4" y="111.20" width="69.2" height="20.70"/></clipPath>
<clipPath id="w30"><circle cx="294.2" cy="121.5" r="9.8"/></clipPath>
<clipPath id="w31"><circle cx="319.2" cy="121.5" r="9.8"/></clipPath>
<clipPath id="w32"><circle cx="343.6" cy="121.5" r="9.8"/></clipPath>
<clipPath id="row4"><rect x="284.4" y="135.10" width="69.2" height="21.10"/></clipPath>
<clipPath id="w40"><circle cx="294.2" cy="145.6" r="9.8"/></clipPath>
<clipPath id="w41"><circle cx="319.2" cy="145.6" r="9.8"/></clipPath>
<clipPath id="w42"><circle cx="343.6" cy="145.6" r="9.8"/></clipPath>
<clipPath id="row5"><rect x="284.4" y="159.40" width="69.2" height="21.80"/></clipPath>
<clipPath id="w50"><circle cx="294.2" cy="170.1" r="9.8"/></clipPath>
<clipPath id="w51"><circle cx="319.2" cy="170.1" r="9.8"/></clipPath>
<clipPath id="w52"><circle cx="343.6" cy="170.1" r="9.8"/></clipPath>
</defs>
<g clip-path="url(#row0)">
<rect x="284.4" y="39.80" width="69.2" height="21.50" fill="#262626"/>
<ellipse cx="306.59999999999997" cy="42.2" rx="3.2" ry="2.6" fill="#b8b4b8" filter="url(#b8)"/>
<g clip-path="url(#w00)"><rect x="283.2" y="39.7" width="22" height="22" fill="#1a1ee0"/>
<ellipse cx="294.2" cy="51.0" rx="7.8" ry="7.8" fill="#30c8ff" filter="url(#b9)"/>
<ellipse cx="293.7" cy="51.0" rx="6.0" ry="6.0" fill="#a8f010" filter="url(#b9)"/>
<ellipse cx="293.4" cy="50.7" rx="4.4" ry="4.2" fill="#f0e000" filter="url(#b8)"/>
<ellipse cx="293.0" cy="50.2" rx="2.6" ry="2.2" fill="#f81810" filter="url(#b6)"/>
</g>
<circle cx="294.2" cy="50.7" r="10.5" fill="none" stroke="#a8a8b0" stroke-width="1.0" opacity="0.8"/>
<ellipse cx="331.59999999999997" cy="42.2" rx="3.2" ry="2.6" fill="#b8b4b8" filter="url(#b8)"/>
<g clip-path="url(#w01)"><rect x="308.2" y="39.7" width="22" height="22" fill="#1a20e0"/>
<ellipse cx="319.2" cy="50.7" rx="8.0" ry="8.0" fill="#30e0f0" filter="url(#b10)"/>
<ellipse cx="319.2" cy="50.7" rx="6.0" ry="6.0" fill="#40f040" filter="url(#b10)"/>
<ellipse cx="319.7" cy="50.7" rx="3.2" ry="3.2" fill="#60f030" filter="url(#b10)"/>
</g>
<circle cx="319.2" cy="50.7" r="10.5" fill="none" stroke="#a8a8b0" stroke-width="1.0" opacity="0.8"/>
<g clip-path="url(#w02)"><rect x="332.6" y="39.7" width="22" height="22" fill="#1a24e0"/>
<ellipse cx="343.6" cy="50.7" rx="8.0" ry="8.0" fill="#30e0f0" filter="url(#b10)"/>
<ellipse cx="344.1" cy="50.7" rx="6.0" ry="6.0" fill="#40f040" filter="url(#b10)"/>
<ellipse cx="345.1" cy="50.2" rx="3.0" ry="3.0" fill="#b0f020" filter="url(#b9)"/>
</g>
<circle cx="343.6" cy="50.7" r="10.5" fill="none" stroke="#a8a8b0" stroke-width="1.0" opacity="0.8"/>
</g>
<g clip-path="url(#row1)">
<rect x="284.4" y="64.50" width="69.2" height="19.20" fill="#262626"/>
<g clip-path="url(#w10)"><rect x="283.2" y="63.099999999999994" width="22" height="22" fill="#3a2cf2"/>
<ellipse cx="297.2" cy="70.1" rx="4.5" ry="3.2" fill="#3aa0ff" filter="url(#b11)"/>
<ellipse cx="293.2" cy="75.1" rx="7" ry="2.6" fill="#8010f0" filter="url(#b10)" transform="rotate(35 293.2 75.1)"/>
<ellipse cx="290.2" cy="78.6" rx="4.2" ry="3.6" fill="#262626" filter="url(#b10)"/>
</g>
<circle cx="294.2" cy="74.1" r="10.4" fill="none" stroke="#ebe3eb" stroke-width="1.5"/>
<g clip-path="url(#w11)"><rect x="308.2" y="63.099999999999994" width="22" height="22" fill="#5a24f0"/>
<ellipse cx="319.2" cy="69.6" rx="6.5" ry="3.2" fill="#3a44ff" filter="url(#b11)"/>
<ellipse cx="319.2" cy="74.6" rx="6" ry="2.2" fill="#9414f0" filter="url(#b10)"/>
<ellipse cx="319.2" cy="79.1" rx="5.5" ry="3.0" fill="#262626" filter="url(#b11)"/>
</g>
<circle cx="319.2" cy="74.1" r="10.4" fill="none" stroke="#ebe3eb" stroke-width="1.5"/>
<g clip-path="url(#w12)"><rect x="332.6" y="63.099999999999994" width="22" height="22" fill="#3250ff"/>
<ellipse cx="344.6" cy="70.6" rx="6.5" ry="3.6" fill="#40b0ff" filter="url(#b11)"/>
<ellipse cx="343.6" cy="76.1" rx="7" ry="2.2" fill="#8412e8" filter="url(#b10)"/>
<ellipse cx="343.6" cy="80.6" rx="6" ry="3" fill="#262626" filter="url(#b11)"/>
</g>
<circle cx="343.6" cy="74.1" r="10.4" fill="none" stroke="#ebe3eb" stroke-width="1.5"/>
</g>
<g clip-path="url(#row2)">
<rect x="284.4" y="86.90" width="69.2" height="21.10" fill="#262626"/>
<g clip-path="url(#w20)"><rect x="283.2" y="86.5" width="22" height="22" fill="#2a3cff"/>
<ellipse cx="297.2" cy="94.5" rx="4.8" ry="4.2" fill="#36a8ff" filter="url(#b11)"/>
<ellipse cx="291.2" cy="101.5" rx="4.5" ry="3.2" fill="#8020f0" filter="url(#b11)"/>
<ellipse cx="289.7" cy="102.5" rx="2.2" ry="1.6" fill="#282030" filter="url(#b9)"/>
</g>
<circle cx="294.2" cy="97.5" r="10.4" fill="none" stroke="#ebe3eb" stroke-width="1.5"/>
<g clip-path="url(#w21)"><rect x="308.2" y="86.5" width="22" height="22" fill="#2c50ff"/>
<ellipse cx="319.2" cy="95.5" rx="6.5" ry="4.8" fill="#30d8ff" filter="url(#b12)"/>
<ellipse cx="319.2" cy="94.5" rx="3.5" ry="2.2" fill="#60f0ff" filter="url(#b10)"/>
<ellipse cx="319.2" cy="102.5" rx="6" ry="2.5" fill="#2830f0" filter="url(#b10)"/>
</g>
<circle cx="319.2" cy="97.5" r="10.4" fill="none" stroke="#ebe3eb" stroke-width="1.5"/>
<g clip-path="url(#w22)"><rect x="332.6" y="86.5" width="22" height="22" fill="#2c50ff"/>
<ellipse cx="344.6" cy="95.5" rx="6.8" ry="5.2" fill="#30ccff" filter="url(#b12)"/>
<ellipse cx="342.6" cy="103.0" rx="5.5" ry="2.4" fill="#2030f0" filter="url(#b10)"/>
</g>
<circle cx="343.6" cy="97.5" r="10.4" fill="none" stroke="#ebe3eb" stroke-width="1.5"/>
</g>
<g clip-path="url(#row3)">
<rect x="284.4" y="111.20" width="69.2" height="20.70" fill="#262626"/>
<g clip-path="url(#w30)"><rect x="283.2" y="110.5" width="22" height="22" fill="#5020f0"/>
<ellipse cx="297.2" cy="118.5" rx="4.5" ry="4" fill="#3444ff" filter="url(#b11)"/>
<ellipse cx="294.2" cy="121.5" rx="5" ry="2.5" fill="#8010f0" filter="url(#b10)"/>
<ellipse cx="291.2" cy="125.0" rx="4" ry="3.8" fill="#2a2a2a" filter="url(#b11)"/>
</g>
<circle cx="294.2" cy="121.5" r="10.4" fill="none" stroke="#ebe3eb" stroke-width="1.5"/>
<g clip-path="url(#w31)"><rect x="308.2" y="110.5" width="22" height="22" fill="#2a30ff"/>
<ellipse cx="319.2" cy="122.5" rx="3.5" ry="3" fill="#7412f0" filter="url(#b11)"/>
<ellipse cx="322.2" cy="117.5" rx="3" ry="2" fill="#3050ff" filter="url(#b10)"/>
</g>
<circle cx="319.2" cy="121.5" r="10.4" fill="none" stroke="#ebe3eb" stroke-width="1.5"/>
<g clip-path="url(#w32)"><rect x="332.6" y="110.5" width="22" height="22" fill="#3040ff"/>
<ellipse cx="346.6" cy="118.5" rx="4.5" ry="4.2" fill="#30ccff" filter="url(#b12)"/>
<ellipse cx="340.6" cy="124.5" rx="4.5" ry="3.8" fill="#8010f0" filter="url(#b11)"/>
<ellipse cx="338.1" cy="122.5" rx="1.8" ry="2" fill="#2a2a2a" filter="url(#b9)"/>
</g>
<circle cx="343.6" cy="121.5" r="10.4" fill="none" stroke="#ebe3eb" stroke-width="1.5"/>
</g>
<g clip-path="url(#row4)">
<rect x="284.4" y="135.10" width="69.2" height="21.10" fill="#262626"/>
<g clip-path="url(#w40)"><rect x="283.2" y="134.6" width="22" height="22" fill="#7a12f0"/>
<ellipse cx="296.2" cy="143.6" rx="4" ry="4" fill="#4434ff" filter="url(#b11)"/>
<ellipse cx="294.2" cy="146.6" rx="2.6" ry="2.6" fill="#40205a" filter="url(#b10)"/>
</g>
<circle cx="294.2" cy="145.6" r="10.4" fill="none" stroke="#ebe3eb" stroke-width="1.5"/>
<g clip-path="url(#w41)"><rect x="308.2" y="134.6" width="22" height="22" fill="#2a40ff"/>
<ellipse cx="322.2" cy="145.6" rx="3.2" ry="4.2" fill="#30c8ff" filter="url(#b11)"/>
<ellipse cx="317.2" cy="142.6" rx="3.2" ry="2.6" fill="#28a8ff" filter="url(#b10)"/>
<ellipse cx="317.2" cy="148.6" rx="3" ry="2.5" fill="#3030ff" filter="url(#b10)"/>
</g>
<circle cx="319.2" cy="145.6" r="10.4" fill="none" stroke="#ebe3eb" stroke-width="1.5"/>
<g clip-path="url(#w42)"><rect x="332.6" y="134.6" width="22" height="22" fill="#6a12e8"/>
<ellipse cx="347.6" cy="145.6" rx="3.2" ry="5" fill="#3454ff" filter="url(#b11)"/>
<ellipse cx="341.6" cy="146.6" rx="3.6" ry="4.2" fill="#2e2432" filter="url(#b11)"/>
<ellipse cx="343.6" cy="140.6" rx="3" ry="2" fill="#8a20f0" filter="url(#b10)"/>
</g>
<circle cx="343.6" cy="145.6" r="10.4" fill="none" stroke="#ebe3eb" stroke-width="1.5"/>
</g>
<g clip-path="url(#row5)">
<rect x="284.4" y="159.40" width="69.2" height="21.80" fill="#262626"/>
<g clip-path="url(#w50)"><rect x="283.2" y="159.1" width="22" height="22" fill="#8012f0"/>
<ellipse cx="294.2" cy="170.6" rx="2.2" ry="5.5" fill="#262030" filter="url(#b9)"/>
<ellipse cx="294.2" cy="170.6" rx="5.5" ry="2.0" fill="#262030" filter="url(#b9)"/>
<ellipse cx="290.2" cy="174.1" rx="2.5" ry="2.5" fill="#262030" filter="url(#b9)"/>
</g>
<circle cx="294.2" cy="170.1" r="10.4" fill="none" stroke="#ebe3eb" stroke-width="1.5"/>
<g clip-path="url(#w51)"><rect x="308.2" y="159.1" width="22" height="22" fill="#323032"/>
<ellipse cx="322.2" cy="167.1" rx="4" ry="3.4" fill="#8424f0" filter="url(#b11)"/>
<ellipse cx="323.7" cy="172.1" rx="2.6" ry="3.8" fill="#7a20e8" filter="url(#b11)"/>
<ellipse cx="315.2" cy="171.1" rx="2.4" ry="3" fill="#7a20e8" filter="url(#b11)"/>
</g>
<circle cx="319.2" cy="170.1" r="10.4" fill="none" stroke="#ebe3eb" stroke-width="1.5"/>
<g clip-path="url(#w52)"><rect x="332.6" y="159.1" width="22" height="22" fill="#3a3a3a"/>
<ellipse cx="347.1" cy="171.1" rx="2.2" ry="4" fill="#56307e" filter="url(#b11)"/>
</g>
<circle cx="343.6" cy="170.1" r="10.4" fill="none" stroke="#ebe3eb" stroke-width="1.5"/>
</g>
<line x1="445.6" y1="51.80" x2="456.3" y2="51.80" stroke="#333" stroke-width="1.1"/>
<line x1="456.3" y1="47.30" x2="456.3" y2="56.30" stroke="#333" stroke-width="1.1"/>
<rect x="355.2" y="43.70" width="90.40" height="16.20" fill="#fff" stroke="#111" stroke-width="1.6"/>
<line x1="374.7" y1="76.85" x2="381.2" y2="76.85" stroke="#333" stroke-width="1.1"/>
<line x1="381.2" y1="72.35" x2="381.2" y2="81.35" stroke="#333" stroke-width="1.1"/>
<rect x="355.2" y="68.70" width="19.50" height="16.30" fill="#fff" stroke="#111" stroke-width="1.6"/>
<line x1="366.6" y1="101.50" x2="370.3" y2="101.50" stroke="#333" stroke-width="1.1"/>
<line x1="370.3" y1="97.00" x2="370.3" y2="106.00" stroke="#333" stroke-width="1.1"/>
<rect x="355.2" y="93.50" width="11.40" height="16.00" fill="#fff" stroke="#111" stroke-width="1.6"/>
<line x1="362.7" y1="125.95" x2="364.0" y2="125.95" stroke="#333" stroke-width="1.1"/>
<line x1="364.0" y1="121.45" x2="364.0" y2="130.45" stroke="#333" stroke-width="1.1"/>
<rect x="355.2" y="117.80" width="7.50" height="16.30" fill="#fff" stroke="#111" stroke-width="1.6"/>
<line x1="379.6" y1="150.30" x2="383.7" y2="150.30" stroke="#333" stroke-width="1.1"/>
<line x1="383.7" y1="145.80" x2="383.7" y2="154.80" stroke="#333" stroke-width="1.1"/>
<rect x="355.2" y="142.10" width="24.40" height="16.40" fill="#fff" stroke="#111" stroke-width="1.6"/>
<line x1="354.3" y1="182.5" x2="354.3" y2="190" stroke="#111" stroke-width="1.9"/>
<line x1="353.4" y1="187.6" x2="460.5" y2="187.6" stroke="#111" stroke-width="2"/>
<line x1="395.8" y1="187.3" x2="395.8" y2="190.2" stroke="#111" stroke-width="1.4"/>
<line x1="436.2" y1="187.3" x2="436.2" y2="190.2" stroke="#111" stroke-width="1.4"/>
<text transform="translate(358.4,198.8) rotate(-90)" font-size="9.4" font-weight="bold" fill="#111">0</text>
<text transform="translate(397.6,196.8) rotate(-90)" font-size="7.4" font-weight="bold" fill="#111">5</text>
<text transform="translate(438.0,196.8) rotate(-90)" font-size="7.4" font-weight="bold" fill="#111">5</text>
<text transform="translate(400.1,232.0) rotate(-90)" font-size="9.2" font-weight="bold" textLength="27.2" lengthAdjust="spacingAndGlyphs" fill="#111">1.0×10</text>
<text transform="translate(440.5,232.0) rotate(-90)" font-size="9.2" font-weight="bold" textLength="27.2" lengthAdjust="spacingAndGlyphs" fill="#111">2.0×10</text>
<text x="374.4" y="247.4" font-size="11.6" font-weight="bold" fill="#111"><tspan textLength="83.4" lengthAdjust="spacingAndGlyphs">photons/sec/cm</tspan><tspan font-size="7.5" dy="-4.8">2</tspan></text>
<rect x="481.3" y="15.6" width="9.3" height="206.7" fill="url(#cbar)"/>
<line x1="490.6" y1="16.50" x2="494.5" y2="16.50" stroke="#555" stroke-width="0.6"/>
<text x="497.6" y="18.70" font-size="6.4" fill="#333">30000</text>
<line x1="490.6" y1="23.66" x2="492.6" y2="23.66" stroke="#555" stroke-width="0.6"/>
<line x1="490.6" y1="30.82" x2="492.6" y2="30.82" stroke="#555" stroke-width="0.6"/>
<line x1="490.6" y1="37.98" x2="492.6" y2="37.98" stroke="#555" stroke-width="0.6"/>
<line x1="490.6" y1="45.14" x2="492.6" y2="45.14" stroke="#555" stroke-width="0.6"/>
<line x1="490.6" y1="52.30" x2="494.5" y2="52.30" stroke="#555" stroke-width="0.6"/>
<text x="497.6" y="54.50" font-size="6.4" fill="#333">25000</text>
<line x1="490.6" y1="59.46" x2="492.6" y2="59.46" stroke="#555" stroke-width="0.6"/>
<line x1="490.6" y1="66.62" x2="492.6" y2="66.62" stroke="#555" stroke-width="0.6"/>
<line x1="490.6" y1="73.78" x2="492.6" y2="73.78" stroke="#555" stroke-width="0.6"/>
<line x1="490.6" y1="80.94" x2="492.6" y2="80.94" stroke="#555" stroke-width="0.6"/>
<line x1="490.6" y1="88.10" x2="494.5" y2="88.10" stroke="#555" stroke-width="0.6"/>
<text x="497.6" y="90.30" font-size="6.4" fill="#333">20000</text>
<line x1="490.6" y1="95.26" x2="492.6" y2="95.26" stroke="#555" stroke-width="0.6"/>
<line x1="490.6" y1="102.42" x2="492.6" y2="102.42" stroke="#555" stroke-width="0.6"/>
<line x1="490.6" y1="109.58" x2="492.6" y2="109.58" stroke="#555" stroke-width="0.6"/>
<line x1="490.6" y1="116.74" x2="492.6" y2="116.74" stroke="#555" stroke-width="0.6"/>
<line x1="490.6" y1="123.90" x2="494.5" y2="123.90" stroke="#555" stroke-width="0.6"/>
<text x="497.6" y="126.10" font-size="6.4" fill="#333">15000</text>
<line x1="490.6" y1="131.06" x2="492.6" y2="131.06" stroke="#555" stroke-width="0.6"/>
<line x1="490.6" y1="138.22" x2="492.6" y2="138.22" stroke="#555" stroke-width="0.6"/>
<line x1="490.6" y1="145.38" x2="492.6" y2="145.38" stroke="#555" stroke-width="0.6"/>
<line x1="490.6" y1="152.54" x2="492.6" y2="152.54" stroke="#555" stroke-width="0.6"/>
<line x1="490.6" y1="159.70" x2="494.5" y2="159.70" stroke="#555" stroke-width="0.6"/>
<text x="497.6" y="161.90" font-size="6.4" fill="#333">10000</text>
<line x1="490.6" y1="166.86" x2="492.6" y2="166.86" stroke="#555" stroke-width="0.6"/>
<line x1="490.6" y1="174.02" x2="492.6" y2="174.02" stroke="#555" stroke-width="0.6"/>
<line x1="490.6" y1="181.18" x2="492.6" y2="181.18" stroke="#555" stroke-width="0.6"/>
<line x1="490.6" y1="188.34" x2="492.6" y2="188.34" stroke="#555" stroke-width="0.6"/>
<line x1="490.6" y1="195.50" x2="494.5" y2="195.50" stroke="#555" stroke-width="0.6"/>
<text x="497.8" y="197.70" font-size="6.4" fill="#333">5000</text>
<line x1="490.6" y1="202.66" x2="492.6" y2="202.66" stroke="#555" stroke-width="0.6"/>
<line x1="490.6" y1="209.82" x2="492.6" y2="209.82" stroke="#555" stroke-width="0.6"/>
<line x1="490.6" y1="216.98" x2="492.6" y2="216.98" stroke="#555" stroke-width="0.6"/>
<rect x="480.7" y="223.7" width="37.5" height="19.3" fill="#fff" stroke="#555" stroke-width="0.8"/>
<text x="499.6" y="229.9" font-size="5.4" text-anchor="middle" fill="#222" textLength="25" lengthAdjust="spacing">Color Bar</text>
<text x="499.9" y="235.1" font-size="5.4" text-anchor="middle" fill="#222" textLength="29.8" lengthAdjust="spacing">Min = 1500</text>
<text x="499.3" y="240.4" font-size="5.4" text-anchor="middle" fill="#222" textLength="34.4" lengthAdjust="spacing">Max = 30000</text>
<line x1="41.6" y1="295" x2="41.6" y2="410.1" stroke="#000" stroke-width="2"/>
<line x1="40.6" y1="409.1" x2="111.3" y2="409.1" stroke="#000" stroke-width="2"/>
<line x1="114.5" y1="409.1" x2="157.5" y2="409.1" stroke="#000" stroke-width="2"/>
<line x1="87.8" y1="409.1" x2="87.8" y2="411.70000000000005" stroke="#000" stroke-width="1.2"/>
<line x1="110.6" y1="409.1" x2="110.6" y2="411.70000000000005" stroke="#000" stroke-width="1.2"/>
<line x1="115.2" y1="409.1" x2="115.2" y2="411.70000000000005" stroke="#000" stroke-width="1.2"/>
<line x1="117.2" y1="409.1" x2="117.2" y2="411.70000000000005" stroke="#000" stroke-width="1.2"/>
<line x1="156.6" y1="409.1" x2="156.6" y2="411.70000000000005" stroke="#000" stroke-width="1.2"/>
<line x1="38.6" y1="409.10" x2="41.6" y2="409.10" stroke="#000" stroke-width="1.2"/>
<text x="39.2" y="413.90" font-size="10" font-weight="bold" text-anchor="end" fill="#111">0</text>
<line x1="38.6" y1="388.18" x2="41.6" y2="388.18" stroke="#000" stroke-width="1.2"/>
<text x="39.2" y="392.98" font-size="10" font-weight="bold" text-anchor="end" fill="#111">20</text>
<line x1="38.6" y1="367.26" x2="41.6" y2="367.26" stroke="#000" stroke-width="1.2"/>
<text x="39.2" y="372.06" font-size="10" font-weight="bold" text-anchor="end" fill="#111">40</text>
<line x1="38.6" y1="346.34" x2="41.6" y2="346.34" stroke="#000" stroke-width="1.2"/>
<text x="39.2" y="351.14" font-size="10" font-weight="bold" text-anchor="end" fill="#111">60</text>
<line x1="38.6" y1="325.42" x2="41.6" y2="325.42" stroke="#000" stroke-width="1.2"/>
<text x="39.2" y="330.22" font-size="10" font-weight="bold" text-anchor="end" fill="#111">80</text>
<line x1="38.6" y1="304.50" x2="41.6" y2="304.50" stroke="#000" stroke-width="1.2"/>
<text x="39.2" y="309.30" font-size="10" font-weight="bold" text-anchor="end" fill="#111">100</text>
<text x="41.8" y="421" font-size="10.5" font-weight="bold" text-anchor="middle" fill="#111">0</text>
<text x="87.6" y="421" font-size="10.5" font-weight="bold" text-anchor="middle" fill="#111">10</text>
<text x="117.2" y="421" font-size="10.5" font-weight="bold" text-anchor="middle" fill="#111">55</text>
<text x="156.3" y="421" font-size="10.5" font-weight="bold" text-anchor="middle" fill="#111">105</text>
<text x="51.3" y="433.2" font-size="9.8" font-weight="bold" textLength="94.6" lengthAdjust="spacingAndGlyphs" fill="#1a1a1a">Time after BMT (days)</text>
<text transform="translate(20.3,375.6) rotate(-90)" font-size="11.2" font-weight="bold" textLength="54" lengthAdjust="spacingAndGlyphs" fill="#111">Survival (%)</text>
<path d="M41.6,304.5 H64.5 V327 H68.5 V347.3 H82.5 V368 H87.1 V388.7 H89.8 V409.1" fill="none" stroke="#b418b4" stroke-width="1.2"/>
<path d="M41.6,304.5 H68.7 V318 H71 V330.9 H78 V343.8 H85 V356.5 H111.3 M114.3,356.5 H152" fill="none" stroke="#e8302c" stroke-width="1.3"/>
<path d="M41.6,304.5 H73 V315.5 H84.3 V327.8 H88 V339.5 H91.3 V351 H96.5 V362.3 H111.3 M114.3,362.3 H152" fill="none" stroke="#2424d0" stroke-width="1.3"/>
<path d="M41.6,304.5 H93.6 V319.8 H111.3 M114.3,319.8 H152" fill="none" stroke="#111" stroke-width="1.3"/>
<path d="M41.6,304.5 H93.6" fill="none" stroke="#000" stroke-width="1.6"/>
<path d="M64.30,324.40 L66.77,328.82 L61.83,328.82 Z" fill="none" stroke="#b418b4" stroke-width="0.9"/>
<path d="M68.50,344.70 L70.97,349.12 L66.03,349.12 Z" fill="none" stroke="#b418b4" stroke-width="0.9"/>
<path d="M82.50,365.40 L84.97,369.82 L80.03,369.82 Z" fill="none" stroke="#b418b4" stroke-width="0.9"/>
<path d="M87.10,386.10 L89.57,390.52 L84.63,390.52 Z" fill="none" stroke="#b418b4" stroke-width="0.9"/>
<path d="M89.80,405.70 L92.27,410.12 L87.33,410.12 Z" fill="none" stroke="#b418b4" stroke-width="0.9"/>
<circle cx="73.00" cy="315.50" r="2.1" fill="none" stroke="#2424d0" stroke-width="0.9"/>
<circle cx="84.30" cy="327.80" r="2.1" fill="none" stroke="#2424d0" stroke-width="0.9"/>
<circle cx="88.00" cy="339.50" r="2.1" fill="none" stroke="#2424d0" stroke-width="0.9"/>
<circle cx="91.30" cy="351.00" r="2.1" fill="none" stroke="#2424d0" stroke-width="0.9"/>
<circle cx="96.50" cy="362.30" r="2.1" fill="none" stroke="#2424d0" stroke-width="0.9"/>
<circle cx="152.00" cy="362.30" r="2.1" fill="none" stroke="#2424d0" stroke-width="0.9"/>
<rect x="65.70" y="315.20" width="5.60" height="5.60" fill="#000"/>
<rect x="68.20" y="328.10" width="5.60" height="5.60" fill="#000"/>
<rect x="75.20" y="341.00" width="5.60" height="5.60" fill="#000"/>
<rect x="82.20" y="353.70" width="5.60" height="5.60" fill="#000"/>
<rect x="149.20" y="353.70" width="5.60" height="5.60" fill="#000"/>
<circle cx="94.30" cy="319.80" r="2.3" fill="#000" stroke="none" stroke-width="0.9"/>
<circle cx="152.00" cy="319.80" r="2.3" fill="#000" stroke="none" stroke-width="0.9"/>
<rect x="39.00" y="301.90" width="5.20" height="5.20" fill="#000"/>
<line x1="104.3" y1="371" x2="111.3" y2="371" stroke="#111" stroke-width="1"/><circle cx="107.80" cy="371.00" r="2.4" fill="#000" stroke="none" stroke-width="0.9"/>
<text x="115.8" y="374.3" font-size="8.8" textLength="29.7" lengthAdjust="spacingAndGlyphs" fill="#222">TCD-BM</text>
<line x1="104.3" y1="382.40000000000003" x2="111.3" y2="382.40000000000003" stroke="#b418b4" stroke-width="1"/><path d="M107.90,379.20 L110.37,383.62 L105.43,383.62 Z" fill="none" stroke="#b418b4" stroke-width="0.9"/>
<text x="115.8" y="385.1" font-size="8.8" textLength="23.0" lengthAdjust="spacingAndGlyphs" fill="#222">cRPMI</text>
<line x1="104.3" y1="392.4" x2="111.3" y2="392.4" stroke="#2424d0" stroke-width="1.2"/><circle cx="107.90" cy="392.40" r="2.2" fill="none" stroke="#2424d0" stroke-width="1"/>
<text x="115.8" y="395.7" font-size="8.8" textLength="13.4" lengthAdjust="spacingAndGlyphs" fill="#222">FLU</text>
<rect x="105.60" y="399.70" width="5.60" height="5.60" fill="#000"/>
<text x="115.8" y="405.8" font-size="8.8" textLength="10.6" lengthAdjust="spacingAndGlyphs" fill="#222">AT</text>
<line x1="302.4" y1="298" x2="302.4" y2="411.7" stroke="#000" stroke-width="2"/>
<line x1="301.4" y1="410.7" x2="424.6" y2="410.7" stroke="#000" stroke-width="2"/>
<line x1="300.2" y1="410.70" x2="302.4" y2="410.70" stroke="#000" stroke-width="1.2"/>
<text x="299.6" y="414.90" font-size="11.4" text-anchor="end" fill="#1a1a1a">0</text>
<line x1="300.2" y1="392.00" x2="302.4" y2="392.00" stroke="#000" stroke-width="1.2"/>
<text x="295.2" y="395.30" font-size="10.6" text-anchor="end" letter-spacing="0.6" fill="#1a1a1a">1.0×10</text>
<text x="295.6" y="391.00" font-size="6" fill="#1a1a1a">6</text>
<line x1="300.2" y1="373.30" x2="302.4" y2="373.30" stroke="#000" stroke-width="1.2"/>
<text x="295.2" y="376.60" font-size="10.6" text-anchor="end" letter-spacing="0.6" fill="#1a1a1a">2.0×10</text>
<text x="295.6" y="372.30" font-size="6" fill="#1a1a1a">6</text>
<line x1="300.2" y1="354.60" x2="302.4" y2="354.60" stroke="#000" stroke-width="1.2"/>
<text x="295.2" y="357.90" font-size="10.6" text-anchor="end" letter-spacing="0.6" fill="#1a1a1a">3.0×10</text>
<text x="295.6" y="353.60" font-size="6" fill="#1a1a1a">6</text>
<line x1="300.2" y1="335.90" x2="302.4" y2="335.90" stroke="#000" stroke-width="1.2"/>
<text x="295.2" y="339.20" font-size="10.6" text-anchor="end" letter-spacing="0.6" fill="#1a1a1a">4.0×10</text>
<text x="295.6" y="334.90" font-size="6" fill="#1a1a1a">6</text>
<line x1="300.2" y1="317.20" x2="302.4" y2="317.20" stroke="#000" stroke-width="1.2"/>
<text x="295.2" y="320.50" font-size="10.6" text-anchor="end" letter-spacing="0.6" fill="#1a1a1a">5.0×10</text>
<text x="295.6" y="316.20" font-size="6" fill="#1a1a1a">6</text>
<line x1="300.2" y1="298.50" x2="302.4" y2="298.50" stroke="#000" stroke-width="1.2"/>
<text x="295.2" y="301.80" font-size="10.6" text-anchor="end" letter-spacing="0.6" fill="#1a1a1a">6.0×10</text>
<text x="295.6" y="297.50" font-size="6" fill="#1a1a1a">6</text>
<line x1="302.40" y1="410.7" x2="302.40" y2="413.2" stroke="#000" stroke-width="1.2"/>
<text x="302.40" y="422" font-size="9.6" font-weight="bold" text-anchor="middle" fill="#111">0</text>
<line x1="331.00" y1="410.7" x2="331.00" y2="413.2" stroke="#000" stroke-width="1.2"/>
<text x="331.00" y="422" font-size="9.6" font-weight="bold" text-anchor="middle" fill="#111">20</text>
<line x1="359.60" y1="410.7" x2="359.60" y2="413.2" stroke="#000" stroke-width="1.2"/>
<text x="359.60" y="422" font-size="9.6" font-weight="bold" text-anchor="middle" fill="#111">40</text>
<line x1="388.20" y1="410.7" x2="388.20" y2="413.2" stroke="#000" stroke-width="1.2"/>
<text x="388.20" y="422" font-size="9.6" font-weight="bold" text-anchor="middle" fill="#111">60</text>
<line x1="416.80" y1="410.7" x2="416.80" y2="413.2" stroke="#000" stroke-width="1.2"/>
<text x="416.80" y="422" font-size="9.6" font-weight="bold" text-anchor="middle" fill="#111">80</text>
<text x="322.3" y="433.4" font-size="9.8" font-weight="bold" textLength="94.2" lengthAdjust="spacingAndGlyphs" fill="#1a1a1a">Time after BMT (days)</text>
<text transform="translate(255.0,397.2) rotate(-90)" font-size="9.8" font-weight="bold" textLength="88.6" lengthAdjust="spacingAndGlyphs" fill="#111">photons/sec/mouse</text>
<path d="M314.1,355 V366 M311.6,355 H316.6 M311.6,366 H316.6" stroke="#333" stroke-width="1" fill="none"/>
<path d="M331.4,369.5 V377 M328.9,369.5 H333.9 M328.9,377 H333.9" stroke="#333" stroke-width="1" fill="none"/>
<path d="M375.7,377.5 V391.3 M373.2,377.5 H378.2 M373.2,391.3 H378.2" stroke="#333" stroke-width="1" fill="none"/>
<path d="M395.6,377.5 V391 M393.1,377.5 H398.1 M393.1,391 H398.1" stroke="#333" stroke-width="1" fill="none"/>
<path d="M418.4,389 V396 M415.9,389 H420.9 M415.9,396 H420.9" stroke="#333" stroke-width="1" fill="none"/>
<path d="M359.2,382 V392 M356.7,382 H361.7 M356.7,392 H361.7" stroke="#333" stroke-width="1" fill="none"/>
<path d="M311,367.6 V367.6 M308.5,367.6 H313.5 M308.5,367.6 H313.5" stroke="#333" stroke-width="1" fill="none"/>
<path d="M304.6,404.8 L307.3,405.6 L310.6,405.6 L314.1,404.9 L319.4,398.5 L323.8,402.0 L330.9,405.6 L337.6,405.5 L348.5,401.4 L359.6,405.2 L375.7,405.2 L395.6,406.6 L406.8,405.2 L418.4,404.0" fill="none" stroke="#000" stroke-width="1.3"/>
<path d="M306.0,402.5 L311.0,367.6 L314.1,361.5 L320.3,374.2 L323.8,379.1 L331.4,373.5 L337.9,387.6 L348.0,384.8 L359.2,387.5 L375.7,384.8 L395.6,384.1 L406.8,387.5 L418.4,392.7" fill="none" stroke="#e8302c" stroke-width="1.4"/>
<path d="M306.5,402.0 L309.3,392.5 L311.5,388.6 L314.0,387.2 L319.4,385.0 L323.8,386.5 L331.4,386.0 L337.9,384.5 L348.0,384.8 L359.2,385.0 L375.7,386.2 L395.6,387.5 L406.8,387.0 L418.4,388.5" fill="none" stroke="#2424d0" stroke-width="1.4"/>
<path d="M305.2,403.0 L311.0,319.7 L314.2,326.6" fill="none" stroke="#b418b4" stroke-width="1.5"/>
<path d="M311,311.5 V325.7 M308,311.5 H314 M308,325.7 H314" stroke="#555" stroke-width="1" fill="none"/>
<path d="M314.5,313.3 V338 M311.5,313.3 H317.5 M311.5,338 H317.5" stroke="#555" stroke-width="1" fill="none"/>
<circle cx="311.50" cy="388.60" r="1.9" fill="none" stroke="#2424d0" stroke-width="0.9"/>
<circle cx="314.00" cy="387.20" r="1.9" fill="none" stroke="#2424d0" stroke-width="0.9"/>
<circle cx="319.40" cy="385.00" r="1.9" fill="none" stroke="#2424d0" stroke-width="0.9"/>
<circle cx="323.80" cy="386.50" r="1.9" fill="none" stroke="#2424d0" stroke-width="0.9"/>
<circle cx="331.40" cy="386.00" r="1.9" fill="none" stroke="#2424d0" stroke-width="0.9"/>
<circle cx="337.90" cy="384.50" r="1.9" fill="none" stroke="#2424d0" stroke-width="0.9"/>
<circle cx="348.00" cy="384.80" r="1.9" fill="none" stroke="#2424d0" stroke-width="0.9"/>
<circle cx="359.20" cy="385.00" r="1.9" fill="none" stroke="#2424d0" stroke-width="0.9"/>
<circle cx="375.70" cy="386.20" r="1.9" fill="none" stroke="#2424d0" stroke-width="0.9"/>
<circle cx="395.60" cy="387.50" r="1.9" fill="none" stroke="#2424d0" stroke-width="0.9"/>
<circle cx="406.80" cy="387.00" r="1.9" fill="none" stroke="#2424d0" stroke-width="0.9"/>
<circle cx="418.40" cy="388.50" r="1.9" fill="none" stroke="#2424d0" stroke-width="0.9"/>
<rect x="308.70" y="365.30" width="4.60" height="4.60" fill="#000"/>
<rect x="311.80" y="359.20" width="4.60" height="4.60" fill="#000"/>
<rect x="318.00" y="371.90" width="4.60" height="4.60" fill="#000"/>
<rect x="321.50" y="376.80" width="4.60" height="4.60" fill="#000"/>
<rect x="329.10" y="371.20" width="4.60" height="4.60" fill="#000"/>
<rect x="335.60" y="385.30" width="4.60" height="4.60" fill="#000"/>
<rect x="345.70" y="382.50" width="4.60" height="4.60" fill="#000"/>
<rect x="356.90" y="385.20" width="4.60" height="4.60" fill="#000"/>
<rect x="373.40" y="382.50" width="4.60" height="4.60" fill="#000"/>
<rect x="393.30" y="381.80" width="4.60" height="4.60" fill="#000"/>
<rect x="404.50" y="385.20" width="4.60" height="4.60" fill="#000"/>
<rect x="416.10" y="390.40" width="4.60" height="4.60" fill="#000"/>
<rect x="302.30" y="400.30" width="4.60" height="4.60" fill="#000"/>
<rect x="304.30" y="402.30" width="4.60" height="4.60" fill="#000"/>
<circle cx="304.60" cy="404.80" r="2.1" fill="#000" stroke="none" stroke-width="0.9"/>
<circle cx="307.30" cy="405.60" r="2.1" fill="#000" stroke="none" stroke-width="0.9"/>
<circle cx="310.60" cy="405.60" r="2.1" fill="#000" stroke="none" stroke-width="0.9"/>
<circle cx="314.10" cy="404.90" r="2.1" fill="#000" stroke="none" stroke-width="0.9"/>
<circle cx="319.40" cy="398.50" r="2.1" fill="#000" stroke="none" stroke-width="0.9"/>
<circle cx="323.80" cy="402.00" r="2.1" fill="#000" stroke="none" stroke-width="0.9"/>
<circle cx="330.90" cy="405.60" r="2.1" fill="#000" stroke="none" stroke-width="0.9"/>
<circle cx="337.60" cy="405.50" r="2.1" fill="#000" stroke="none" stroke-width="0.9"/>
<circle cx="348.50" cy="401.40" r="2.1" fill="#000" stroke="none" stroke-width="0.9"/>
<circle cx="359.60" cy="405.20" r="2.1" fill="#000" stroke="none" stroke-width="0.9"/>
<circle cx="375.70" cy="405.20" r="2.1" fill="#000" stroke="none" stroke-width="0.9"/>
<circle cx="395.60" cy="406.60" r="2.1" fill="#000" stroke="none" stroke-width="0.9"/>
<circle cx="406.80" cy="405.20" r="2.1" fill="#000" stroke="none" stroke-width="0.9"/>
<circle cx="418.40" cy="404.00" r="2.1" fill="#000" stroke="none" stroke-width="0.9"/>
<path d="M311.00,316.90 L313.66,321.66 L308.34,321.66 Z" fill="#fff" stroke="#b418b4" stroke-width="0.9"/>
<path d="M314.20,323.80 L316.86,328.56 L311.54,328.56 Z" fill="#fff" stroke="#b418b4" stroke-width="0.9"/>
<line x1="351.5" y1="314.1" x2="358.7" y2="314.1" stroke="#b418b4" stroke-width="1"/><path d="M355.10,310.80 L357.67,315.39 L352.54,315.39 Z" fill="none" stroke="#b418b4" stroke-width="0.9"/>
<text x="362.6" y="316.1" font-size="8.6" textLength="24.4" lengthAdjust="spacingAndGlyphs" fill="#222">cRPMI</text>
<rect x="352.40" y="322.90" width="5.40" height="5.40" fill="#000"/>
<text x="362.6" y="328.20000000000005" font-size="8.6" textLength="9.6" lengthAdjust="spacingAndGlyphs" fill="#222">AT</text>
<line x1="351.5" y1="337" x2="358.7" y2="337" stroke="#2424d0" stroke-width="1.4"/><circle cx="355.10" cy="337.00" r="2.2" fill="none" stroke="#2424d0" stroke-width="1"/>
<text x="362.6" y="339.6" font-size="8.6" textLength="15.2" lengthAdjust="spacingAndGlyphs" fill="#222">FLU</text>
<line x1="351.5" y1="348.7" x2="358.7" y2="348.7" stroke="#000" stroke-width="1"/><path d="M355.1,345.9 L358.2,348.7 L355.1,351.5 L352,348.7 Z" fill="#000"/>
<text x="363.3" y="351.3" font-size="8.6" textLength="34.8" lengthAdjust="spacingAndGlyphs" fill="#222">TCD-BM</text>
<line x1="16.20" y1="212.50" x2="16.20" y2="251.50" stroke="#000" stroke-width="2.4" />
<line x1="15.00" y1="250.80" x2="57.00" y2="250.80" stroke="#000" stroke-width="2.4" />
<text x="61.50" y="257.50" font-size="14" text-anchor="start" font-weight="normal" fill="#000" stroke="#000" stroke-width="0.3">CFSE</text>
<text transform="translate(21.3,208.5) rotate(-90)" font-size="13.7" x="0" y="0" stroke="#000" stroke-width="0.3">SSC</text>
</svg></body></html>
